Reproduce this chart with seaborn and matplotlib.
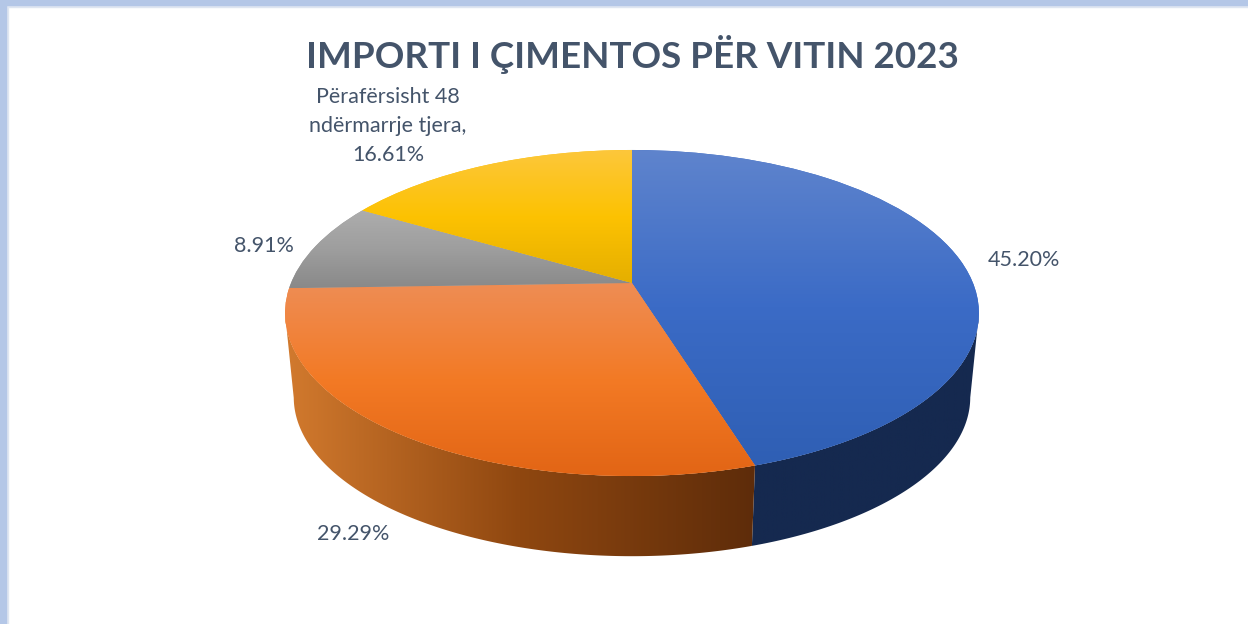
import numpy as np
import seaborn as sns
import matplotlib.pyplot as plt
from matplotlib.patches import Polygon, Rectangle
from matplotlib.colors import LinearSegmentedColormap
from matplotlib.transforms import Transform

title = 'IMPORTI I ÇIMENTOS PËR VITIN 2023'
shares = [45.20, 29.29, 8.91, 16.61]
labels = ['45.20%', '29.29%', '8.91%', 'Përafërsisht 48\nndërmarrje tjera,\n16.61%']
top_colors = [
    ['#5f84cd', '#3b6bc6', '#2f5fb4'],
    ['#ee8d55', '#f37a25', '#e26515'],
    ['#adadad', '#9e9e9e', '#898989'],
    ['#fcc73c', '#fdc202', '#e5af00'],
]
# only the first two slices show a side wall
wall_colors = [
    ['#15294f', '#15294f'],
    ['#d27a2e', '#8f4710', '#5e2c0a'],
]

sns.set_theme(style='white')
plt.rcParams['font.family'] = ['Lato', 'DejaVu Sans']
text_color = '#44546a'

# the pie leans back, so the slices meet above the middle of the ellipse
CX, TILT = 632, 0.184


class PieView(Transform):
    input_dims = output_dims = 2

    def __init__(self, apex_y, scale):
        super().__init__()
        self.apex_y = apex_y
        self.scale = scale

    def transform_non_affine(self, xy):
        xy = np.asarray(xy, dtype=float)
        w = 1 + TILT * xy[:, 1]
        return np.column_stack([CX + 341 * self.scale * xy[:, 0] / w,
                                self.apex_y - 157.5 * self.scale * xy[:, 1] / w])


def arc(t1, t2):
    t = np.radians(np.linspace(t1, t2, 400))
    return np.column_stack([np.cos(t), np.sin(t)])


fig = plt.figure(figsize=(12.48, 6.24), dpi=100)
ax = fig.add_axes([0, 0, 1, 1])

wedges, _ = ax.pie(shares, startangle=90, counterclock=False, radius=1)
ax.set_aspect('auto')

top_view = PieView(283, 1)
bottom_view = PieView(368, 0.975)

# side walls, only the part of the rim in front of the widest point
for w, colors in zip(wedges, wall_colors):
    pts = arc(w.theta1, w.theta2)
    pts = pts[pts[:, 1] <= -TILT]
    outline = np.vstack([top_view.transform_non_affine(pts),
                         bottom_view.transform_non_affine(pts)[::-1]])
    cmap = LinearSegmentedColormap.from_list('wall', colors)
    im = ax.imshow(np.linspace(0, 1, 256).reshape(1, -1), cmap=cmap, aspect='auto', zorder=2,
                   extent=[outline[:, 0].min(), outline[:, 0].max(), 560, 280])
    im.set_clip_path(Polygon(outline, closed=True, transform=ax.transData))

# top face with the vertical shading
for i, w in enumerate(wedges):
    w.set_transform(top_view + ax.transData)
    w.set_facecolor(top_colors[i][1])
    w.set_edgecolor('none')
    w.set_zorder(3)
    cmap = LinearSegmentedColormap.from_list('face', top_colors[i])
    ys = np.linspace(0, 1, 256).reshape(-1, 1)
    # shade runs over the slice's own height
    arc_pts = top_view.transform_non_affine(np.vstack([arc(w.theta1, w.theta2), [[0, 0]]]))
    im = ax.imshow(ys, cmap=cmap, aspect='auto', zorder=4,
                   extent=[280, 985, arc_pts[:, 1].max(), arc_pts[:, 1].min()])
    im.set_clip_path(w)

ax.set_xlim(0, 1248)
ax.set_ylim(624, 0)
ax.axis('off')

# frame of the screenshot
ax.add_patch(Rectangle((0, 0), 1248, 5, color='#b4c7e7', zorder=6))
ax.add_patch(Rectangle((0, 0), 6, 624, color='#b4c7e7', zorder=6))
ax.add_patch(Rectangle((6, 5), 1242, 2, color='#dfe6f1', zorder=5))
ax.add_patch(Rectangle((6, 5), 2, 619, color='#dfe6f1', zorder=5))

ax.text(632, 54, title, fontsize=26.5, fontweight='bold', color=text_color,
        ha='center', va='center')
label_pos = [(1024, 260), (353, 534), (264, 246), (388, 126)]
for lab, (x, y) in zip(labels, label_pos):
    ax.text(x, y, lab, fontsize=15.5, color=text_color, ha='center', va='center',
            linespacing=1.58)

fig.savefig('out.png', dpi=100)
